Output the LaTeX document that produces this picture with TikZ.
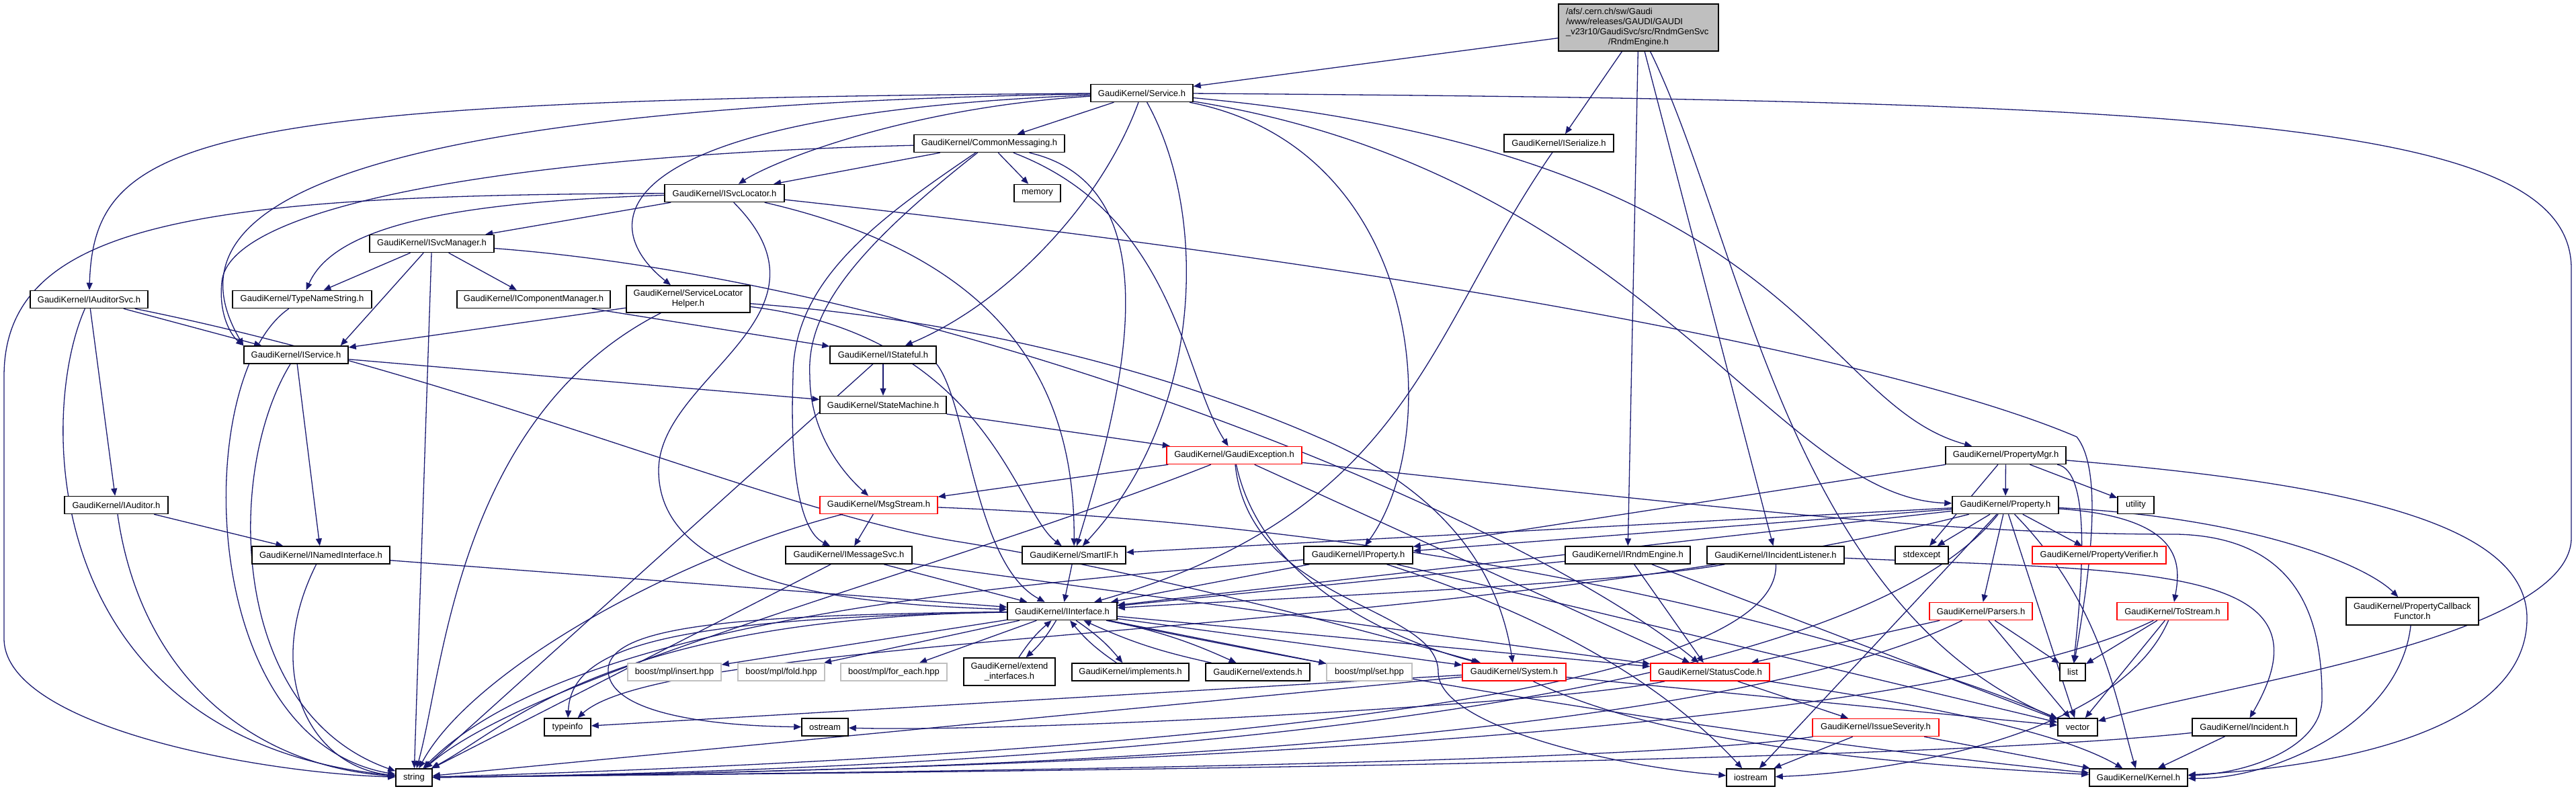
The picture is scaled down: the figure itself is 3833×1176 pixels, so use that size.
\documentclass[tikz,border=0pt]{standalone}
\usepackage{fontspec}
\setmainfont{Liberation Sans}
\usetikzlibrary{arrows.meta,backgrounds}
\definecolor{edgeblue}{RGB}{25,25,112}
\definecolor{boxgray}{RGB}{191,191,191}
\tikzset{
  hfile/.style = {draw=black, fill=white, line width=1.5pt, inner sep=0pt,
                  minimum height=26pt, align=center,
                  font=\fontsize{13}{15}\selectfont},
  hred/.style  = {hfile, draw=red},
  hgray/.style = {hfile, draw=boxgray},
  % the file the graph is drawn for
  hroot/.style = {hfile, fill=boxgray, align=left, text width=216pt,
                  minimum width=238pt, minimum height=70pt},
  incl/.style  = {draw=edgeblue, line width=1.3pt,
                  -{Triangle[length=11pt,width=9pt]}},
}

\begin{document}
\begin{tikzpicture}[x=1pt, y=-1pt]
  \useasboundingbox (0,0) rectangle (3833,1176);

  \node[hroot] (root) at (2438,41)
    {/afs/.cern.ch/sw/Gaudi\\/www/releases/GAUDI/GAUDI\\\_v23r10/GaudiSvc/src/RndmGenSvc\\\makebox[216pt]{/RndmEngine.h}};

  \node[hfile, minimum width=152pt] (service)    at (1699,138.5) {GaudiKernel/Service.h};
  \node[hfile, minimum width=224pt] (commsg)     at (1472,213.5) {GaudiKernel/CommonMessaging.h};
  \node[hfile, minimum width=163pt] (iserialize) at (2319.5,213) {GaudiKernel/ISerialize.h};
  \node[hfile, minimum width=178pt] (isvcloc)    at (1078,287.5) {GaudiKernel/ISvcLocator.h};
  \node[hfile, minimum width=69pt]  (memory)     at (1543.5,287.5) {memory};
  \node[hfile, minimum width=185pt] (isvcmgr)    at (642.5,362.5) {GaudiKernel/ISvcManager.h};

  \node[hfile, minimum width=175pt] (iauditsvc)  at (132.5,445.5) {GaudiKernel/IAuditorSvc.h};
  \node[hfile, minimum width=207pt] (typename)   at (449.5,445.5) {GaudiKernel/TypeNameString.h};
  \node[hfile, minimum width=228pt] (icompmgr)   at (794,445.5)   {GaudiKernel/IComponentManager.h};
  \node[hfile, minimum width=184pt, minimum height=40pt] (slhelper) at (1024,445)
    {GaudiKernel/ServiceLocator\\Helper.h};
  \node[hfile, minimum width=155pt] (iservice)   at (440.5,528)   {GaudiKernel/IService.h};
  \node[hfile, minimum width=158pt] (istateful)  at (1314,528)    {GaudiKernel/IStateful.h};
  \node[hfile, minimum width=188pt] (statemach)  at (1314,602.5)  {GaudiKernel/StateMachine.h};
  \node[hred,  minimum width=201pt] (gaudiexc)   at (1836.5,677.5) {GaudiKernel/GaudiException.h};
  \node[hfile, minimum width=179pt] (propmgr)    at (2984.5,677.5) {GaudiKernel/PropertyMgr.h};

  \node[hfile, minimum width=154pt] (iauditor)   at (173,751.5)    {GaudiKernel/IAuditor.h};
  \node[hred,  minimum width=175pt] (msgstream)  at (1307.5,751.5) {GaudiKernel/MsgStream.h};
  \node[hfile, minimum width=158pt] (property)   at (2984,751.5)   {GaudiKernel/Property.h};
  \node[hfile, minimum width=54pt]  (utility)    at (3178,751.5)   {utility};

  \node[hfile, minimum width=205pt] (inamed)     at (477.5,826)  {GaudiKernel/INamedInterface.h};
  \node[hfile, minimum width=188pt] (imsgsvc)    at (1263,826)   {GaudiKernel/IMessageSvc.h};
  \node[hfile, minimum width=154pt] (smartif)    at (1598,826)   {GaudiKernel/SmartIF.h};
  \node[hfile, minimum width=162pt] (iproperty)  at (2021,826)   {GaudiKernel/IProperty.h};
  \node[hfile, minimum width=186pt] (irndm)      at (2422,826)   {GaudiKernel/IRndmEngine.h};
  \node[hfile, minimum width=204pt] (iincl)      at (2642,826)   {GaudiKernel/IIncidentListener.h};
  \node[hfile, minimum width=79pt]  (stdexcept)  at (2859.5,826) {stdexcept};
  \node[hred,  minimum width=199pt] (propverif)  at (3123.5,826) {GaudiKernel/PropertyVerifier.h};

  \node[hfile, minimum width=163pt] (iinterface) at (1580.5,909.5) {GaudiKernel/IInterface.h};
  \node[hred,  minimum width=153pt] (parsers)    at (2947.5,909.5) {GaudiKernel/Parsers.h};
  \node[hred,  minimum width=165pt] (tostream)   at (3232.5,909.5) {GaudiKernel/ToStream.h};
  \node[hfile, minimum width=197pt, minimum height=41pt] (propcb) at (3589.5,909.5)
    {GaudiKernel/PropertyCallback\\Functor.h};

  \node[hgray, minimum width=139pt] (mplinsert)  at (1003.5,1000) {boost/mpl/insert.hpp};
  \node[hgray, minimum width=129pt] (mplfold)    at (1162.5,1000) {boost/mpl/fold.hpp};
  \node[hgray, minimum width=158pt] (mplforeach) at (1330,1000)   {boost/mpl/for\_each.hpp};
  \node[hfile, minimum width=136pt, minimum height=41pt] (extendif) at (1502,999.5)
    {GaudiKernel/extend\\\_interfaces.h};
  \node[hfile, minimum width=174pt] (implements) at (1682,1000)   {GaudiKernel/implements.h};
  \node[hfile, minimum width=155pt] (extends)    at (1871.5,1000) {GaudiKernel/extends.h};
  \node[hgray, minimum width=127pt] (mplset)     at (2037.5,1000) {boost/mpl/set.hpp};
  \node[hred,  minimum width=154pt] (system)     at (2253,1000)   {GaudiKernel/System.h};
  \node[hred,  minimum width=177pt] (statuscode) at (2544.5,1000) {GaudiKernel/StatusCode.h};
  \node[hfile, minimum width=38pt]  (list)       at (3084,1000)   {list};

  \node[hfile, minimum width=69pt]  (typeinfo)   at (844.5,1082)  {typeinfo};
  \node[hfile, minimum width=69pt]  (ostream)    at (1227.5,1082) {ostream};
  \node[hred,  minimum width=188pt] (severity)   at (2791,1082.5) {GaudiKernel/IssueSeverity.h};
  \node[hfile, minimum width=59pt]  (vector)     at (3091.5,1082) {vector};
  \node[hfile, minimum width=155pt] (incident)   at (3339.5,1082) {GaudiKernel/Incident.h};

  \node[hfile, minimum width=54pt]  (string)     at (616,1157)  {string};
  \node[hfile, minimum width=72pt]  (iostream)   at (2605,1157) {iostream};
  \node[hfile, minimum width=146pt] (kernel)     at (3182,1157) {GaudiKernel/Kernel.h};

  \begin{scope}[on background layer]
  % RndmEngine.h
  \draw[incl] (root) -- (service);
  \draw[incl] (root) -- (iserialize);
  \draw[incl] (root) -- (irndm);
  \draw[incl] (root) -- (iincl);
  \draw[incl] (root) .. controls (2590,350) and (2660,900) .. (vector);

  % Service.h
  \draw[incl] (service) -- (commsg);
  \draw[incl] (service) .. controls (1350,160) and (1150,240) .. (isvcloc);
  \draw[incl] (service) .. controls (300,148) and (140,200) .. (iauditsvc);
  \draw[incl] (service) .. controls (420,160) and (255,330) .. (iservice.north west);
  \draw[incl] (service) .. controls (900,170) and (880,330) .. (slhelper);
  \draw[incl] (service) .. controls (1640,300) and (1500,450) .. (istateful);
  \draw[incl] (service) .. controls (1800,320) and (1790,620) .. (smartif);
  \draw[incl] (service) .. controls (2120,220) and (2150,650) .. (iproperty);
  \draw[incl] (service) .. controls (2680,230) and (2700,600) .. (propmgr);
  \draw[incl] (service) .. controls (2450,260) and (2640,740) .. (property);
  \draw[incl] (service) .. controls (3300,150) and (3826,180) .. (3826,400)
    -- (3826,800) .. controls (3826,950) and (3300,1020) .. (vector);

  % CommonMessaging.h
  \draw[incl] (commsg) .. controls (800,230) and (340,300) .. (330,420)
    .. controls (325,470) and (345,500) .. (iservice.north west);
  \draw[incl] (commsg) -- (isvcloc);
  \draw[incl] (commsg) -- (memory);
  \draw[incl] (commsg) .. controls (1300,330) and (1180,420) .. (1180,560)
    .. controls (1175,700) and (1190,790) .. (imsgsvc);
  \draw[incl] (commsg) .. controls (1260,380) and (1200,470) .. (1205,560)
    .. controls (1205,640) and (1250,700) .. (msgstream);
  \draw[incl] (commsg) .. controls (1760,280) and (1660,620) .. (smartif);
  \draw[incl] (commsg) .. controls (1750,320) and (1760,560) .. (gaudiexc);

  % ISerialize.h
  \draw[incl] (iserialize) .. controls (2120,500) and (2100,760) .. (iinterface);

  % ISvcLocator.h
  \draw[incl] (isvcloc) .. controls (300,290) and (6,330) .. (6,560)
    -- (6,950) .. controls (6,1080) and (380,1150) .. (string);
  \draw[incl] (isvcloc) -- (isvcmgr);
  \draw[incl] (isvcloc) .. controls (700,300) and (500,330) .. (typename);
  \draw[incl] (isvcloc) .. controls (1260,470) and (980,560) .. (980,700)
    .. controls (980,880) and (1300,900) .. (iinterface);
  \draw[incl] (isvcloc) .. controls (1480,380) and (1600,560) .. (smartif);
  \draw[incl] (isvcloc) .. controls (2300,420) and (2880,560) .. (3090,650)
    .. controls (3130,700) and (3110,850) .. (list);

  % ISvcManager.h
  \draw[incl] (isvcmgr) -- (typename);
  \draw[incl] (isvcmgr) -- (icompmgr);
  \draw[incl] (isvcmgr) -- ([xshift=-12pt]iservice.north east);
  \draw[incl] (isvcmgr) -- (string);
  \draw[incl] (isvcmgr) .. controls (1400,420) and (2250,760) .. (statuscode);

  % second row
  \draw[incl] (iauditsvc) -- (iservice);
  \draw[incl] (iauditsvc) -- (iauditor);
  \draw[incl] (iauditsvc) .. controls (55,620) and (60,1100) .. (string);
  \draw[incl] (iauditsvc) .. controls (700,560) and (1150,760) .. (1420,805)
    .. controls (1700,850) and (2000,930) .. (system);
  \draw[incl] (typename) .. controls (285,560) and (290,1100) .. (string);
  \draw[incl] (icompmgr) -- (istateful);
  \draw[incl] (slhelper) -- (iservice);
  \draw[incl] (slhelper) .. controls (680,620) and (660,1000) .. (string);
  \draw[incl] (slhelper) .. controls (1470,500) and (1510,760) .. (smartif);
  \draw[incl] (slhelper) .. controls (1500,480) and (1800,580) .. (1960,650)
    .. controls (2150,730) and (2230,850) .. (system);

  \draw[incl] (iservice) -- (inamed);
  \draw[incl] (iservice) .. controls (335,700) and (340,1060) .. (string);
  \draw[incl] (iservice) -- (statemach);
  \draw[incl] (istateful) -- (statemach);
  \draw[incl] (istateful) -- (string);
  \draw[incl] (istateful.south east) .. controls (1440,600) and (1450,840) .. (iinterface);
  \draw[incl] (statemach) -- (gaudiexc);

  % GaudiException.h
  \draw[incl] (gaudiexc) -- (msgstream);
  \draw[incl] (gaudiexc) .. controls (1400,850) and (800,1000) .. (string);
  \draw[incl] (gaudiexc) .. controls (1880,880) and (2100,960) .. (system);
  \draw[incl] (gaudiexc) -- (statuscode);
  \draw[incl] (gaudiexc) .. controls (1860,900) and (2140,900) .. (2140,1000)
    .. controls (2140,1080) and (2400,1140) .. (iostream);
  \draw[incl] (gaudiexc) .. controls (2600,760) and (2900,795) .. (3240,795)
    .. controls (3440,800) and (3455,950) .. (3455,1040)
    .. controls (3455,1110) and (3350,1150) .. (kernel);

  \draw[incl] (msgstream) -- (imsgsvc);
  \draw[incl] (msgstream) .. controls (1000,830) and (700,1000) .. (string);
  \draw[incl] (msgstream) .. controls (2300,790) and (2900,1000) .. (vector);
  \draw[incl] (iauditor) -- (inamed);
  \draw[incl] (iauditor) .. controls (210,1010) and (380,1140) .. (string);
  \draw[incl] (inamed) -- (iinterface);
  \draw[incl] (inamed) .. controls (390,1000) and (460,1140) .. (string);
  \draw[incl] (imsgsvc) -- (iinterface);
  \draw[incl] (imsgsvc) -- (string);
  \draw[incl] (imsgsvc) -- (statuscode);
  \draw[incl] (smartif) -- (iinterface);

  \draw[incl] (iproperty) -- (iinterface);
  \draw[incl] (iproperty) .. controls (1500,870) and (850,920) .. (string);
  \draw[incl] (iproperty) -- (vector);
  \draw[incl] (iproperty) .. controls (2250,900) and (2450,990) .. (iostream);
  \draw[incl] (irndm) -- (iinterface);
  \draw[incl] (irndm) -- (statuscode);
  \draw[incl] (irndm) -- (vector);
  \draw[incl] (iincl) .. controls (2400,870) and (1900,890) .. (iinterface);
  \draw[incl] (iincl) .. controls (2650,1060) and (1500,1130) .. (string);
  \draw[incl] (iincl) .. controls (3200,850) and (3480,840) .. (incident);

  % PropertyMgr.h and Property.h
  \draw[incl] (propmgr) -- (iproperty);
  \draw[incl] (propmgr) -- (property);
  \draw[incl] (propmgr) -- (stdexcept);
  \draw[incl] (propmgr) -- (utility);
  \draw[incl] (propmgr) .. controls (3110,700) and (3100,850) .. (list);
  \draw[incl] (propmgr) .. controls (3500,720) and (3760,780) .. (3760,920)
    .. controls (3760,1080) and (3500,1140) .. (kernel);

  \draw[incl] (property) -- (iproperty);
  \draw[incl] (property) -- (smartif);
  \draw[incl] (property) -- (iinterface);
  \draw[incl] (property) .. controls (2700,1110) and (1200,1150) .. (string);
  \draw[incl] (property) -- (stdexcept);
  \draw[incl] (property) -- (propverif);
  \draw[incl] (property) -- (parsers);
  \draw[incl] (property) .. controls (3250,770) and (3245,840) .. (tostream);
  \draw[incl] (property) .. controls (3350,770) and (3520,840) .. (propcb);
  \draw[incl] (property) .. controls (3130,900) and (3150,1050) .. (kernel);
  \draw[incl] (property) -- (vector);
  \draw[incl] (property) .. controls (2200,950) and (1000,940) .. (typeinfo);
  \draw[incl] (property) -- (iostream);

  % IInterface.h
  \draw[incl] (iinterface) -- (mplinsert);
  \draw[incl] (iinterface) -- (mplfold);
  \draw[incl] (iinterface) -- (mplforeach);
  \draw[incl] (iinterface) to[bend left=8] (extendif);
  \draw[incl] (extendif) to[bend left=8] (iinterface);
  \draw[incl] (iinterface) to[bend left=8] (implements);
  \draw[incl] (implements) to[bend left=8] (iinterface);
  \draw[incl] (iinterface) to[bend left=6] (extends);
  \draw[incl] (extends) to[bend left=6] (iinterface);
  \draw[incl] (iinterface) -- (mplset);
  \draw[incl] (iinterface) -- (system);
  \draw[incl] (iinterface) -- (statuscode);
  \draw[incl] (iinterface) .. controls (900,920) and (760,1080) .. (string);
  \draw[incl] (iinterface) .. controls (1000,920) and (850,960) .. (typeinfo);
  \draw[incl] (iinterface) .. controls (1100,915) and (900,930) .. (905,1000)
    .. controls (910,1060) and (1050,1080) .. (ostream);
  \draw[incl] (iinterface) .. controls (2300,1060) and (2900,1130) .. (kernel);

  % bottom rows
  \draw[incl] (system) -- (typeinfo);
  \draw[incl] (system) -- (string);
  \draw[incl] (system) -- (vector);
  \draw[incl] (system) .. controls (2500,1120) and (2900,1140) .. (kernel);
  \draw[incl] (statuscode) -- (severity);
  \draw[incl] (statuscode) .. controls (2300,1050) and (1500,1090) .. (ostream);
  \draw[incl] (statuscode) .. controls (2800,1040) and (3050,1080) .. (kernel);
  \draw[incl] (severity) .. controls (2400,1140) and (1200,1150) .. (string);
  \draw[incl] (severity) -- (iostream);
  \draw[incl] (severity) -- (kernel);
  \draw[incl] (parsers) -- (statuscode);
  \draw[incl] (parsers) .. controls (2500,1130) and (1200,1150) .. (string);
  \draw[incl] (parsers) -- (list);
  \draw[incl] (parsers) -- (vector);
  \draw[incl] (tostream) -- (list);
  \draw[incl] (tostream) -- (vector);
  \draw[incl] (tostream) .. controls (2800,1120) and (1200,1150) .. (string);
  \draw[incl] (tostream) .. controls (3150,1100) and (2800,1150) .. (iostream);
  \draw[incl] (propcb) .. controls (3570,1080) and (3380,1160) .. (kernel);
  \draw[incl] (incident) -- (kernel);
  \draw[incl] (incident) .. controls (2800,1140) and (1200,1150) .. (string);
  \end{scope}
\end{tikzpicture}
\end{document}
